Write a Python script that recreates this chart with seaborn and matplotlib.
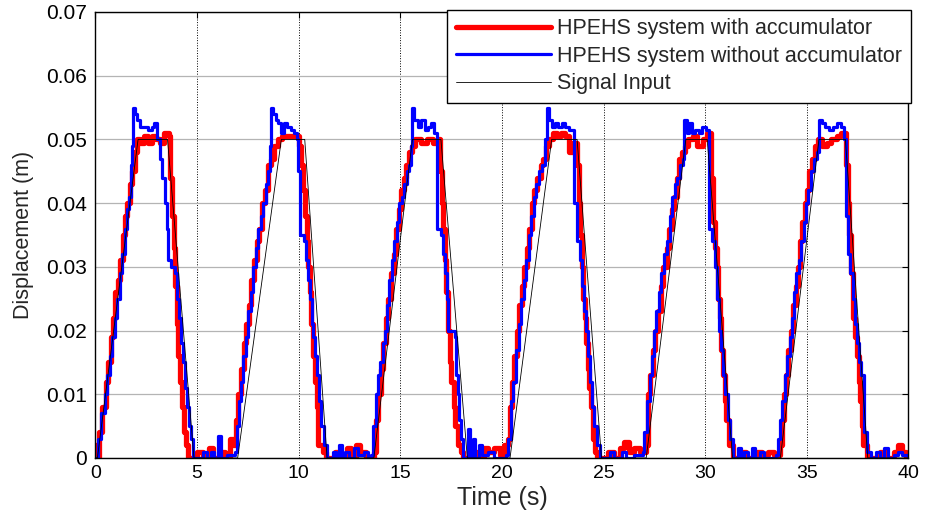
import matplotlib
matplotlib.use("Agg")
import pandas as pd
import matplotlib.pyplot as plt
import seaborn as sns

# (time s, displacement m) step points
red_steps = [
    (0.0, 0.002), (0.1, 0.0), (0.2, 0.004), (0.35, 0.008), (0.5, 0.012), (0.6, 0.015), (0.75, 0.019),
    (0.85, 0.022), (0.95, 0.026), (1.1, 0.028), (1.2, 0.031), (1.35, 0.035), (1.45, 0.038), (1.55, 0.040),
    (1.7, 0.043), (1.8, 0.045), (1.95, 0.048), (2.05, 0.050), (2.2, 0.0495), (2.4, 0.0505), (2.6, 0.0495),
    (2.8, 0.0505), (3.0, 0.050), (3.2, 0.0495), (3.4, 0.051), (3.6, 0.0505), (3.68, 0.044), (3.78, 0.038),
    (3.85, 0.033), (3.92, 0.027), (4.0, 0.021), (4.08, 0.016), (4.15, 0.012), (4.25, 0.008), (4.35, 0.004),
    (4.45, 0.002), (4.55, 0.0),
    (5.0, 0.001), (5.3, 0.0), (5.6, 0.0015), (5.8, 0.0), (6.2, 0.001), (6.4, 0.0), (6.6, 0.003), (6.75, 0.002),
    (6.9, 0.006), (7.0, 0.010), (7.15, 0.014), (7.3, 0.018), (7.4, 0.021), (7.55, 0.024), (7.65, 0.028),
    (7.8, 0.031), (7.95, 0.034), (8.05, 0.036), (8.2, 0.040), (8.35, 0.042), (8.5, 0.046), (8.65, 0.047),
    (8.8, 0.049), (9.0, 0.050), (9.2, 0.0505), (9.5, 0.0505), (9.8, 0.0505), (10.0, 0.049), (10.12, 0.046),
    (10.22, 0.042), (10.3, 0.038), (10.4, 0.034), (10.48, 0.030), (10.55, 0.026), (10.62, 0.021),
    (10.7, 0.016), (10.8, 0.012), (10.9, 0.008), (10.97, 0.002), (11.2, 0.001), (11.35, 0.0),
    (11.8, 0.001), (12.0, 0.0), (12.4, 0.0015), (12.6, 0.0), (12.8, 0.002), (13.0, 0.001), (13.3, 0.0),
    (13.7, 0.001),
    (13.8, 0.006), (13.9, 0.010), (14.05, 0.014), (14.15, 0.018), (14.3, 0.022), (14.4, 0.025), (14.55, 0.029),
    (14.7, 0.032), (14.8, 0.036), (14.95, 0.039), (15.05, 0.042), (15.2, 0.044), (15.3, 0.046), (15.45, 0.048),
    (15.6, 0.049), (15.72, 0.050), (16.0, 0.0495), (16.3, 0.050), (16.6, 0.0495), (16.85, 0.050),
    (16.95, 0.045), (17.05, 0.040), (17.12, 0.036), (17.2, 0.031), (17.27, 0.026), (17.35, 0.020),
    (17.45, 0.015), (17.52, 0.012), (17.62, 0.008), (17.7, 0.005), (17.85, 0.002), (18.0, 0.001), (18.1, 0.0),
    (18.6, 0.001), (18.8, 0.0), (19.1, 0.0015), (19.3, 0.001), (19.6, 0.0015), (19.9, 0.0005), (20.1, 0.002),
    (20.3, 0.003),
    (20.4, 0.008), (20.5, 0.012), (20.6, 0.016), (20.75, 0.020), (20.85, 0.024), (21.0, 0.027), (21.1, 0.030),
    (21.25, 0.033), (21.35, 0.036), (21.5, 0.040), (21.6, 0.042), (21.75, 0.044), (21.9, 0.046), (22.0, 0.047),
    (22.15, 0.049), (22.3, 0.050), (22.5, 0.051), (22.7, 0.0505), (22.9, 0.051), (23.1, 0.0505), (23.3, 0.048),
    (23.5, 0.0495), (23.7, 0.046), (23.78, 0.040), (23.85, 0.035), (23.92, 0.030), (24.0, 0.025),
    (24.08, 0.022), (24.15, 0.018), (24.22, 0.014), (24.3, 0.011), (24.4, 0.008), (24.48, 0.003),
    (24.6, 0.001), (24.7, 0.0),
    (25.2, 0.001), (25.5, 0.0), (25.8, 0.0015), (26.0, 0.0025), (26.25, 0.001), (26.5, 0.0015), (26.8, 0.001),
    (27.1, 0.002),
    (27.2, 0.010), (27.3, 0.013), (27.45, 0.017), (27.55, 0.020), (27.7, 0.023), (27.85, 0.027), (27.95, 0.030),
    (28.1, 0.033), (28.2, 0.036), (28.35, 0.039), (28.45, 0.041), (28.6, 0.044), (28.7, 0.047), (28.85, 0.048),
    (29.0, 0.049), (29.15, 0.050), (29.4, 0.0505), (29.6, 0.049), (29.9, 0.050), (30.1, 0.051), (30.28, 0.044),
    (30.4, 0.037), (30.5, 0.033), (30.58, 0.030), (30.65, 0.025), (30.72, 0.022), (30.8, 0.017),
    (30.88, 0.013), (30.97, 0.009), (31.05, 0.006), (31.15, 0.002), (31.35, 0.0),
    (31.8, 0.001), (32.0, 0.0), (32.5, 0.001), (32.8, 0.0005), (33.1, 0.001), (33.4, 0.0005), (33.7, 0.002),
    (33.8, 0.006), (33.9, 0.010), (34.0, 0.013), (34.1, 0.017), (34.2, 0.020), (34.3, 0.024), (34.45, 0.027),
    (34.55, 0.030), (34.65, 0.034), (34.75, 0.037), (34.9, 0.040), (35.0, 0.042), (35.1, 0.045), (35.25, 0.047),
    (35.4, 0.049), (35.55, 0.050), (35.75, 0.049), (36.0, 0.0495), (36.2, 0.050), (36.5, 0.0505), (36.7, 0.051),
    (36.92, 0.046), (37.02, 0.040), (37.1, 0.035), (37.18, 0.029), (37.25, 0.022), (37.35, 0.019),
    (37.45, 0.016), (37.55, 0.012), (37.62, 0.009), (37.7, 0.005), (37.78, 0.002), (37.95, 0.0),
    (38.6, 0.001), (38.9, 0.0), (39.3, 0.001), (39.5, 0.002), (39.7, 0.001), (39.9, 0.0), (40.0, 0.0),
]

blue_steps = [
    (0.0, 0.0), (0.15, 0.003), (0.3, 0.007), (0.45, 0.010), (0.55, 0.013), (0.7, 0.016), (0.8, 0.019),
    (0.95, 0.022), (1.05, 0.025), (1.2, 0.029), (1.3, 0.032), (1.45, 0.036), (1.55, 0.039), (1.65, 0.041),
    (1.75, 0.046), (1.82, 0.049), (1.87, 0.055), (1.95, 0.054), (2.05, 0.053), (2.2, 0.052), (2.4, 0.052),
    (2.6, 0.0515), (2.8, 0.052), (2.9, 0.0525), (3.05, 0.050), (3.2, 0.047), (3.3, 0.044), (3.42, 0.040),
    (3.5, 0.036), (3.55, 0.031), (3.7, 0.030), (3.9, 0.029), (4.0, 0.025), (4.1, 0.022), (4.2, 0.018),
    (4.3, 0.015), (4.4, 0.011), (4.5, 0.008), (4.6, 0.005), (4.7, 0.003), (4.8, 0.0),
    (5.3, 0.001), (5.5, 0.0), (5.7, 0.001), (5.85, 0.0), (6.05, 0.0035), (6.2, 0.0), (6.5, 0.0005),
    (6.85, 0.001),
    (6.95, 0.005), (7.05, 0.009), (7.15, 0.012), (7.25, 0.016), (7.4, 0.019), (7.5, 0.023), (7.65, 0.026),
    (7.75, 0.030), (7.9, 0.033), (8.0, 0.036), (8.15, 0.038), (8.25, 0.040), (8.4, 0.043), (8.5, 0.045),
    (8.58, 0.049), (8.65, 0.055), (8.75, 0.054), (8.9, 0.053), (9.0, 0.0525), (9.15, 0.051), (9.3, 0.0525),
    (9.45, 0.052), (9.6, 0.0515), (9.75, 0.051), (9.9, 0.050), (9.98, 0.045), (10.05, 0.035), (10.25, 0.034),
    (10.35, 0.031), (10.45, 0.028), (10.55, 0.025), (10.65, 0.021), (10.72, 0.019), (10.8, 0.016),
    (10.88, 0.013), (10.98, 0.009), (11.1, 0.005), (11.25, 0.002), (11.4, 0.0),
    (11.7, 0.001), (11.85, 0.0), (12.0, 0.002), (12.15, 0.0), (12.3, 0.001), (12.5, 0.0), (12.7, 0.0015),
    (12.9, 0.0005), (13.2, 0.001), (13.4, 0.0), (13.55, 0.0005),
    (13.65, 0.005), (13.8, 0.010), (13.9, 0.013), (14.0, 0.015), (14.15, 0.018), (14.25, 0.020),
    (14.35, 0.024), (14.45, 0.028), (14.6, 0.031), (14.7, 0.034), (14.85, 0.037), (14.95, 0.040),
    (15.1, 0.041), (15.2, 0.043), (15.35, 0.045), (15.45, 0.046), (15.55, 0.049), (15.6, 0.055),
    (15.7, 0.053), (15.85, 0.052), (16.0, 0.053), (16.2, 0.0515), (16.35, 0.052), (16.5, 0.0525),
    (16.65, 0.051), (16.8, 0.036), (17.0, 0.035), (17.1, 0.032), (17.2, 0.029), (17.28, 0.025),
    (17.36, 0.020), (17.7, 0.019), (17.75, 0.013), (17.82, 0.010), (17.9, 0.006), (18.0, 0.003), (18.1, 0.0),
    (18.35, 0.0045), (18.45, 0.0), (18.6, 0.003), (18.7, 0.0), (18.85, 0.002), (19.0, 0.0005), (19.3, 0.001),
    (19.6, 0.0), (20.2, 0.0005),
    (20.3, 0.003), (20.45, 0.009), (20.55, 0.012), (20.7, 0.017), (20.85, 0.021), (20.95, 0.025),
    (21.1, 0.028), (21.2, 0.031), (21.35, 0.035), (21.45, 0.038), (21.6, 0.041), (21.7, 0.043),
    (21.85, 0.045), (21.95, 0.046), (22.1, 0.050), (22.22, 0.055), (22.32, 0.053), (22.45, 0.052),
    (22.6, 0.0525), (22.75, 0.052), (22.95, 0.0525), (23.1, 0.052), (23.3, 0.0515), (23.55, 0.040),
    (23.7, 0.034), (23.85, 0.031), (23.95, 0.027), (24.05, 0.023), (24.12, 0.020), (24.22, 0.016),
    (24.32, 0.012), (24.45, 0.008), (24.55, 0.005), (24.7, 0.002), (24.85, 0.0),
    (25.3, 0.001), (25.5, 0.0), (25.9, 0.001), (26.1, 0.0), (26.5, 0.0005), (26.95, 0.001),
    (27.0, 0.004), (27.15, 0.009), (27.3, 0.013), (27.4, 0.016), (27.5, 0.020), (27.6, 0.023), (27.75, 0.026),
    (27.85, 0.029), (28.0, 0.032), (28.1, 0.034), (28.25, 0.038), (28.35, 0.041), (28.5, 0.043), (28.6, 0.044),
    (28.75, 0.046), (28.9, 0.047), (28.98, 0.053), (29.1, 0.051), (29.2, 0.0525), (29.35, 0.051),
    (29.5, 0.0515), (29.7, 0.051), (29.85, 0.052), (30.05, 0.0515), (30.2, 0.036), (30.35, 0.034),
    (30.5, 0.030), (30.6, 0.025), (30.7, 0.020), (30.8, 0.017), (30.9, 0.013), (31.0, 0.010), (31.1, 0.006),
    (31.2, 0.003), (31.35, 0.0),
    (31.6, 0.0015), (31.75, 0.0), (31.9, 0.001), (32.1, 0.0), (32.3, 0.0015), (32.45, 0.0), (32.7, 0.001),
    (32.9, 0.0), (33.5, 0.0005),
    (33.6, 0.003), (33.7, 0.006), (33.8, 0.009), (33.95, 0.013), (34.05, 0.016), (34.15, 0.019),
    (34.25, 0.022), (34.35, 0.026), (34.45, 0.029), (34.6, 0.031), (34.7, 0.034), (34.85, 0.037),
    (34.95, 0.040), (35.05, 0.042), (35.2, 0.045), (35.35, 0.047), (35.5, 0.048), (35.62, 0.053),
    (35.75, 0.0525), (35.9, 0.052), (36.1, 0.0515), (36.3, 0.052), (36.5, 0.0525), (36.7, 0.052),
    (36.85, 0.050), (36.92, 0.038), (37.05, 0.032), (37.15, 0.029), (37.25, 0.025), (37.35, 0.021),
    (37.45, 0.018), (37.55, 0.015), (37.68, 0.013), (37.82, 0.004), (37.95, 0.001), (38.15, 0.0),
    (38.4, 0.001), (38.6, 0.0), (38.8, 0.0015), (39.0, 0.0), (39.3, 0.0005), (39.5, 0.001), (39.7, 0.0005),
    (40.0, 0.0),
]

# trapezoidal reference signal
signal_t = [0, 0.1, 2.1, 3.55, 4.85, 7.0, 9.15, 10.3, 11.4, 13.7, 15.6, 17.0, 18.3,
            20.4, 22.45, 23.7, 24.9, 27.1, 29.05, 30.1, 31.35, 33.7, 35.6, 36.9, 38.0, 40]
signal_d = [0, 0, 0.05, 0.05, 0, 0, 0.05, 0.05, 0, 0, 0.05, 0.05, 0,
            0, 0.05, 0.05, 0, 0, 0.05, 0.05, 0, 0, 0.05, 0.05, 0, 0]

labels = ["HPEHS system with accumulator", "HPEHS system without accumulator", "Signal Input"]
x_ticks = [0, 5, 10, 15, 20, 25, 30, 35, 40]
y_ticks = [0, 0.01, 0.02, 0.03, 0.04, 0.05, 0.06, 0.07]
y_tick_labels = ["0", "0.01", "0.02", "0.03", "0.04", "0.05", "0.06", "0.07"]

red = pd.DataFrame(red_steps, columns=["t", "d"])
blue = pd.DataFrame(blue_steps, columns=["t", "d"])
sig = pd.DataFrame({"t": signal_t, "d": signal_d})

sns.set_style("white")
plt.rcParams["font.family"] = ["Liberation Sans", "DejaVu Sans"]

fig, ax = plt.subplots(figsize=(9.26, 5.21), dpi=100)
fig.subplots_adjust(left=0.103, right=0.981, bottom=0.121, top=0.977)

sns.lineplot(data=red, x="t", y="d", ax=ax, color="#ff0000", lw=3.8, drawstyle="steps-post",
             estimator=None, sort=False, label=labels[0])
sns.lineplot(data=blue, x="t", y="d", ax=ax, color="#0000ff", lw=2.3, drawstyle="steps-post",
             estimator=None, sort=False, label=labels[1])
sns.lineplot(data=sig, x="t", y="d", ax=ax, color="black", lw=0.6,
             estimator=None, sort=False, label=labels[2])

ax.set_xlim(0, 40)
ax.set_ylim(0, 0.07)
ax.set_xticks(x_ticks)
ax.set_yticks(y_ticks)
ax.set_yticklabels(y_tick_labels)
ax.tick_params(direction="in", top=True, right=True, length=4, colors="black")
ax.tick_params(axis="x", labelsize=14, pad=5)
ax.tick_params(axis="y", labelsize=15, pad=6)

ax.yaxis.grid(True, color="#b4b4b4", lw=0.9, ls="-")
ax.xaxis.grid(True, color="black", lw=0.7, ls=":")
ax.set_axisbelow(True)
for s in ax.spines.values():
    s.set_color("black")
    s.set_linewidth(1.0)

ax.set_xlabel("Time (s)", fontsize=18, labelpad=3)
ax.set_ylabel("Displacement (m)", fontsize=15.5, labelpad=9)

leg = ax.legend(loc="upper right", bbox_to_anchor=(1.003, 1.005), borderaxespad=0, fancybox=False,
                edgecolor="black", framealpha=1, fontsize=15.5, handlelength=4.4, labelspacing=0.3,
                handletextpad=0.3, borderpad=0.4)
leg.get_frame().set_linewidth(1.0)

fig.savefig("out.png", dpi=100)
